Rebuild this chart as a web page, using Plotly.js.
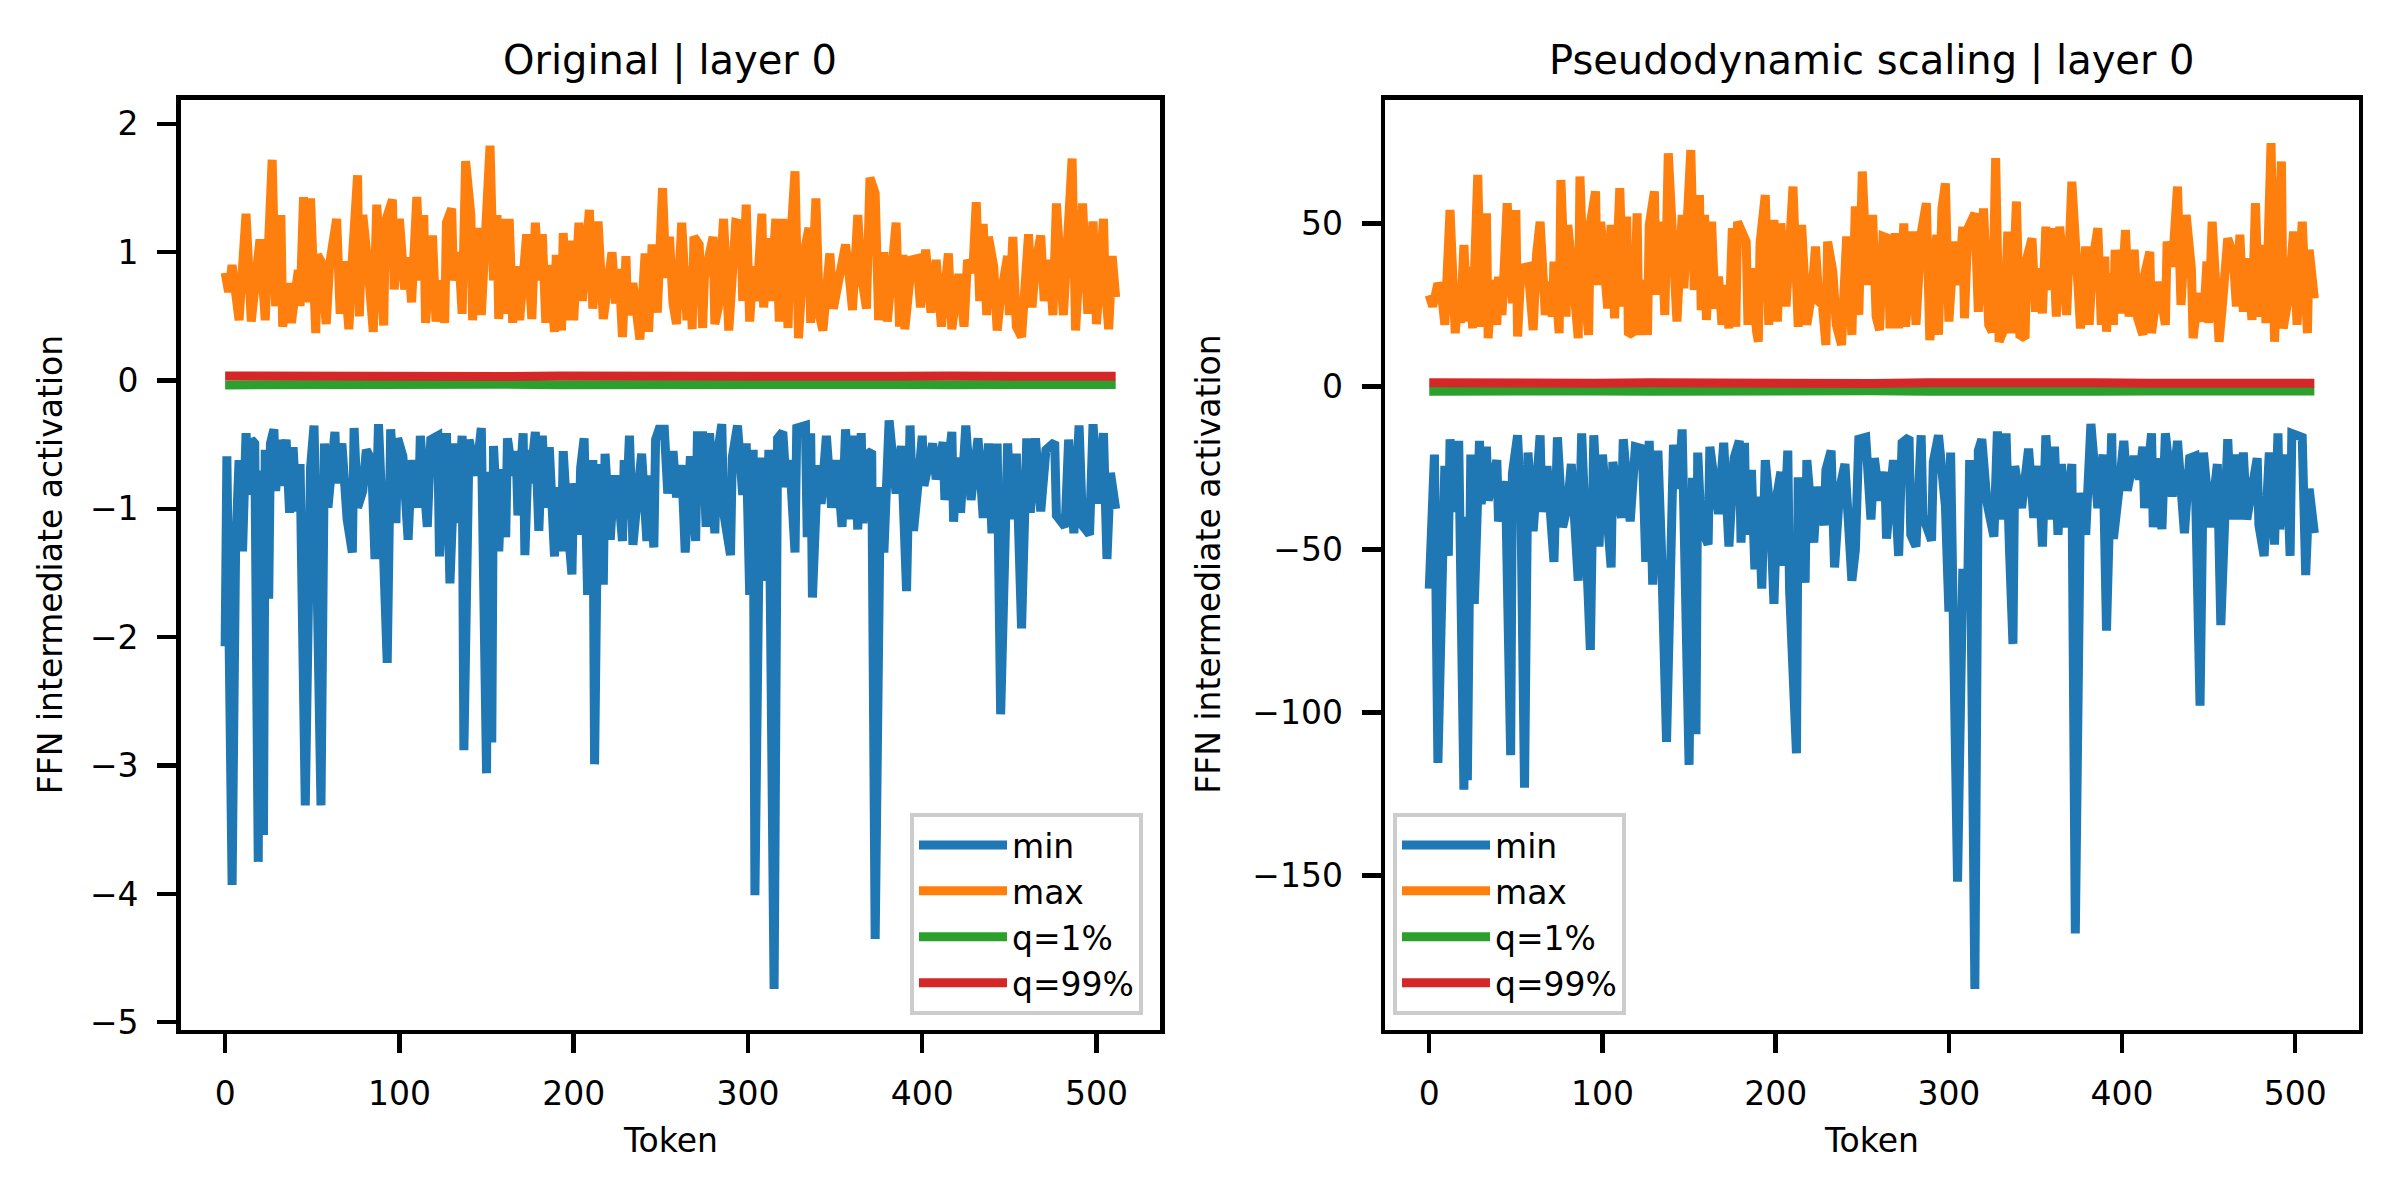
<!DOCTYPE html>
<html><head><meta charset="utf-8">
<script src="https://cdn.plot.ly/plotly-3.0.1.min.js"></script>
<style>html,body{margin:0;padding:0;background:#fff}#chart{width:2400px;height:1200px}</style>
</head><body><div id="chart"></div>
<script>
const panelTitles = ['Original | layer 0', 'Pseudodynamic scaling | layer 0'];
const xLabel = 'Token';
const yLabel = 'FFN intermediate activation';
const seriesNames = ['min', 'max', 'q=1%', 'q=99%'];
const seriesColors = ['#1f77b4', '#ff7f0e', '#2ca02c', '#d62728'];
const xTicks = [0, 100, 200, 300, 400, 500];
const leftYTicks = [-5, -4, -3, -2, -1, 0, 1, 2];
const rightYTicks = [-150, -100, -50, 0, 50];

// [token, value] (local extremes of the traces)
const leftMin = [[0,-2.07],[1,-0.59],[4,-3.93],[6,-1.33],[8,-0.62],[10,-1.33],[12,-0.41],[14,-0.89],[15,-0.46],[17,-0.49],[19,-3.75],[20,-0.70],[22,-3.54],[23,-0.54],[25,-1.70],[26,-0.49],[28,-0.38],[29,-0.86],[31,-0.46],[32,-0.82],[35,-0.46],[37,-1.03],[39,-0.52],[41,-1.02],[43,-0.65],[46,-3.31],[49,-0.68],[51,-0.35],[52,-0.96],[55,-3.31],[57,-0.49],[59,-0.99],[63,-0.40],[64,-0.80],[67,-0.49],[70,-1.08],[73,-1.34],[74,-0.37],[76,-0.99],[79,-0.86],[81,-0.54],[84,-0.62],[86,-1.39],[88,-0.34],[90,-0.99],[93,-2.20],[95,-0.38],[98,-1.11],[99,-0.45],[102,-0.59],[105,-1.24],[107,-0.62],[111,-0.99],[112,-0.43],[116,-1.14],[118,-0.46],[122,-0.43],[123,-1.37],[125,-0.77],[127,-0.41],[129,-1.58],[132,-0.49],[133,-1.11],[136,-0.43],[137,-2.88],[140,-0.46],[144,-0.74],[147,-0.37],[150,-3.06],[151,-0.71],[153,-2.82],[154,-0.51],[157,-1.33],[159,-0.69],[161,-1.22],[162,-0.45],[165,-0.74],[167,-0.55],[168,-1.05],[171,-0.41],[172,-1.36],[174,-0.54],[175,-0.80],[178,-0.40],[180,-1.17],[182,-0.43],[184,-0.99],[186,-0.52],[189,-1.37],[190,-0.83],[193,-1.33],[194,-0.55],[196,-1.02],[199,-1.51],[200,-0.80],[203,-1.20],[204,-0.68],[206,-0.45],[208,-1.67],[211,-0.62],[212,-2.99],[214,-0.65],[217,-1.59],[218,-0.57],[221,-1.24],[223,-0.77],[225,-0.77],[228,-1.25],[229,-0.62],[230,-1.08],[232,-0.43],[234,-1.28],[236,-0.99],[239,-0.57],[242,-1.25],[244,-0.74],[246,-1.30],[247,-0.46],[249,-0.38],[252,-0.38],[254,-0.88],[257,-0.55],[259,-0.91],[262,-0.66],[264,-1.34],[267,-0.59],[270,-1.25],[271,-0.43],[274,-0.43],[276,-1.14],[278,-0.41],[281,-1.19],[282,-0.62],[285,-0.34],[286,-1.02],[290,-1.36],[291,-0.60],[294,-0.35],[297,-0.89],[299,-0.49],[301,-1.67],[303,-0.54],[304,-4.01],[307,-0.60],[310,-1.56],[312,-0.54],[315,-4.74],[317,-0.45],[320,-0.40],[322,-0.83],[324,-0.62],[327,-1.34],[328,-0.37],[333,-0.35],[334,-1.22],[336,-0.41],[337,-1.69],[340,-0.66],[342,-0.96],[345,-0.43],[348,-0.99],[351,-0.62],[354,-1.14],[356,-0.38],[359,-1.08],[361,-0.43],[363,-1.16],[365,-0.41],[366,-1.11],[369,-0.57],[371,-0.55],[373,-4.35],[376,-0.83],[378,-1.34],[381,-0.31],[385,-0.88],[388,-0.51],[391,-1.64],[393,-0.35],[395,-1.17],[398,-0.75],[400,-0.43],[401,-0.82],[406,-0.49],[408,-0.77],[412,-0.48],[413,-0.93],[417,-0.40],[418,-1.10],[420,-0.60],[422,-1.03],[425,-0.35],[428,-0.93],[432,-0.45],[435,-1.07],[438,-0.49],[440,-1.19],[443,-0.49],[445,-2.60],[449,-0.49],[451,-1.08],[454,-0.57],[457,-1.93],[460,-0.45],[462,-1.03],[465,-0.45],[468,-1.02],[471,-0.54],[476,-0.48],[477,-1.05],[482,-1.14],[484,-0.46],[487,-1.19],[490,-0.35],[492,-1.13],[496,-1.20],[498,-0.34],[501,-0.96],[504,-0.41],[506,-1.39],[508,-0.72],[511,-1.00]];

const leftMax = [[0,0.84],[2,0.69],[4,0.90],[8,0.47],[12,1.30],[15,0.46],[20,1.10],[23,0.47],[27,1.72],[29,0.58],[32,1.29],[33,0.42],[36,0.76],[38,0.45],[42,0.86],[43,0.58],[45,1.43],[47,0.61],[49,1.42],[52,0.37],[53,0.98],[55,0.93],[58,0.44],[60,0.91],[64,1.26],[66,0.52],[68,0.93],[71,0.40],[73,0.95],[76,1.60],[77,0.50],[79,1.29],[82,0.89],[85,0.38],[87,1.37],[91,0.43],[92,1.24],[96,1.41],[97,0.71],[100,1.26],[103,0.71],[105,0.96],[107,0.61],[110,1.43],[112,0.78],[114,1.29],[115,0.45],[119,1.13],[121,0.46],[123,0.78],[126,0.45],[127,1.23],[130,1.34],[131,0.78],[134,1.00],[136,0.52],[138,1.71],[141,1.29],[142,0.47],[145,1.19],[147,0.51],[152,1.83],[154,0.78],[156,1.29],[157,0.48],[160,1.26],[161,0.52],[163,1.26],[165,0.45],[167,0.89],[169,0.47],[173,1.14],[176,0.48],[178,1.23],[180,0.78],[182,1.14],[184,0.45],[186,0.90],[189,0.38],[190,0.98],[193,0.39],[194,1.15],[196,0.47],[199,1.09],[200,0.47],[203,1.23],[205,0.62],[209,1.33],[211,0.56],[214,1.24],[217,0.48],[220,0.78],[222,1.00],[224,0.60],[226,0.87],[228,0.34],[230,0.97],[231,0.51],[234,0.76],[238,0.32],[241,0.99],[243,0.38],[245,1.06],[248,0.53],[251,1.50],[253,0.80],[255,1.12],[257,0.60],[259,0.44],[262,1.23],[265,0.47],[267,0.89],[268,0.40],[269,1.12],[272,1.06],[274,0.41],[275,0.80],[280,1.12],[281,0.44],[283,0.57],[286,1.26],[289,0.39],[291,0.83],[293,1.23],[296,1.22],[297,0.62],[299,1.37],[301,0.46],[303,0.89],[305,0.62],[308,1.30],[309,0.57],[312,1.11],[313,0.62],[316,1.26],[318,0.46],[320,1.26],[323,0.41],[324,0.98],[327,1.63],[329,0.33],[332,0.98],[335,1.19],[336,0.45],[339,1.42],[341,0.51],[343,0.39],[347,0.99],[349,0.56],[353,0.84],[356,1.06],[358,0.83],[360,0.55],[363,1.29],[365,0.83],[368,0.56],[370,1.58],[373,1.46],[375,0.47],[378,1.00],[380,0.46],[385,1.23],[387,0.42],[389,0.98],[390,0.40],[394,0.94],[397,0.95],[399,0.57],[402,1.02],[405,0.53],[408,0.94],[411,0.42],[415,0.99],[417,0.40],[421,0.83],[424,0.42],[426,0.94],[429,0.84],[431,1.39],[433,0.62],[435,1.22],[437,0.51],[438,1.12],[441,0.89],[443,0.39],[445,0.65],[449,0.97],[450,0.51],[452,1.12],[454,0.42],[457,0.34],[461,1.14],[463,0.57],[465,0.90],[468,1.13],[470,0.62],[473,0.94],[475,0.51],[477,1.38],[481,0.51],[483,0.94],[486,1.73],[488,0.39],[490,0.95],[492,1.38],[495,0.52],[498,1.24],[500,0.44],[504,1.26],[505,0.73],[507,0.40],[509,0.97],[511,0.65]];

const leftQ1 = [[0,-0.034],[32,-0.030],[64,-0.032],[96,-0.028],[128,-0.031],[160,-0.029],[192,-0.033],[224,-0.030],[256,-0.028],[288,-0.031],[320,-0.034],[352,-0.029],[384,-0.030],[416,-0.032],[448,-0.028],[480,-0.031],[511,-0.030]];
const leftQ99 = [[0,0.036],[32,0.033],[64,0.035],[96,0.031],[128,0.034],[160,0.032],[192,0.036],[224,0.033],[256,0.031],[288,0.034],[320,0.037],[352,0.032],[384,0.033],[416,0.035],[448,0.031],[480,0.034],[511,0.033]];

const rightMin = [[0,-62.0],[3,-20.9],[5,-115.5],[7,-56.1],[9,-24.4],[11,-52.0],[12,-16.2],[15,-38.5],[17,-16.7],[20,-123.7],[21,-40.0],[22,-120.8],[24,-20.9],[26,-66.7],[29,-16.7],[30,-36.1],[33,-18.5],[34,-35.0],[39,-22.6],[40,-41.4],[44,-29.1],[47,-113.1],[48,-26.7],[51,-15.0],[53,-39.7],[55,-123.1],[57,-20.3],[60,-44.4],[64,-15.0],[65,-38.5],[68,-24.4],[72,-53.8],[74,-15.6],[77,-43.2],[80,-36.1],[82,-23.8],[86,-59.6],[88,-14.4],[90,-42.0],[93,-80.8],[95,-15.0],[98,-49.1],[100,-20.9],[105,-55.5],[106,-23.2],[111,-40.3],[112,-16.2],[116,-41.4],[119,-18.5],[123,-19.1],[125,-53.8],[127,-16.7],[129,-60.8],[132,-19.7],[134,-49.1],[137,-109.0],[141,-17.9],[144,-31.4],[146,-13.2],[150,-116.1],[152,-28.0],[154,-106.7],[155,-20.3],[157,-43.2],[161,-48.5],[162,-18.5],[164,-26.7],[167,-39.1],[170,-17.3],[173,-49.1],[176,-22.0],[179,-16.7],[180,-47.9],[182,-17.3],[183,-45.5],[186,-25.6],[188,-56.1],[190,-33.8],[192,-62.0],[194,-22.6],[197,-39.7],[199,-66.7],[201,-32.6],[203,-26.2],[204,-55.0],[207,-19.7],[208,-62.0],[212,-112.5],[213,-27.9],[217,-60.2],[218,-22.6],[222,-47.9],[224,-30.8],[228,-42.6],[229,-25.6],[232,-19.7],[234,-55.5],[237,-31.4],[240,-23.8],[244,-59.6],[246,-50.2],[248,-16.2],[252,-15.6],[255,-40.8],[257,-22.0],[260,-35.0],[263,-26.2],[264,-46.7],[268,-22.6],[271,-52.0],[273,-17.3],[277,-15.6],[278,-45.5],[281,-49.1],[284,-15.0],[285,-39.7],[290,-47.3],[291,-23.2],[294,-15.0],[298,-36.7],[300,-69.1],[301,-20.3],[305,-151.9],[308,-57.3],[311,-57.3],[312,-22.6],[315,-184.8],[317,-19.7],[319,-16.2],[322,-35.6],[326,-46.1],[328,-13.8],[331,-40.8],[333,-14.4],[335,-50.2],[337,-79.0],[338,-24.4],[342,-37.3],[346,-19.1],[349,-40.3],[352,-24.4],[354,-49.1],[356,-15.0],[359,-40.8],[361,-18.5],[363,-45.5],[365,-23.8],[367,-43.2],[371,-23.8],[373,-167.8],[376,-32.6],[379,-45.5],[382,-11.5],[386,-37.3],[389,-20.9],[391,-74.9],[394,-14.4],[395,-46.7],[398,-32.6],[401,-16.7],[403,-32.0],[407,-21.4],[410,-28.5],[412,-18.5],[413,-37.3],[417,-14.4],[418,-43.2],[421,-22.0],[423,-43.8],[425,-14.4],[429,-33.8],[432,-16.7],[436,-45.0],[439,-22.0],[442,-21.4],[445,-97.9],[447,-20.3],[451,-43.2],[455,-23.8],[457,-73.2],[461,-16.2],[463,-40.8],[466,-20.9],[468,-40.8],[470,-20.3],[472,-40.8],[478,-22.0],[479,-42.6],[482,-52.0],[485,-20.3],[488,-48.5],[490,-14.4],[491,-43.8],[495,-20.9],[497,-52.0],[498,-14.4],[504,-15.6],[506,-57.9],[508,-31.4],[511,-45.0]];

const rightMax = [[0,28.0],[2,24.5],[5,31.6],[7,29.1],[9,18.9],[12,54.1],[15,16.3],[17,31.1],[18,19.4],[20,43.4],[22,19.9],[24,36.7],[25,17.8],[28,64.9],[30,18.3],[33,53.1],[34,14.8],[36,32.6],[39,18.9],[40,33.7],[42,21.9],[43,38.3],[45,56.2],[48,25.5],[50,54.1],[51,15.3],[53,36.2],[57,36.7],[60,17.3],[62,40.8],[64,50.5],[67,21.9],[69,32.1],[71,21.4],[72,38.3],[75,16.3],[76,63.3],[79,21.4],[80,49.5],[83,33.2],[85,20.9],[86,14.8],[87,64.4],[89,33.7],[92,15.8],[93,50.0],[96,59.8],[97,31.1],[99,50.5],[103,23.9],[105,49.5],[107,20.9],[110,60.8],[112,24.5],[114,52.1],[115,15.8],[118,16.8],[120,53.1],[121,15.8],[124,32.6],[126,15.8],[127,49.5],[130,59.8],[131,28.1],[134,50.5],[136,21.9],[138,71.5],[141,30.1],[143,19.9],[146,52.6],[147,30.1],[151,72.5],[153,29.6],[156,58.7],[157,23.4],[159,52.6],[160,20.4],[163,50.5],[165,23.9],[167,33.7],[169,18.9],[171,31.1],[173,17.8],[175,48.5],[177,18.3],[178,50.5],[181,46.5],[183,44.4],[184,18.9],[186,36.2],[189,16.8],[190,13.7],[191,43.9],[194,58.7],[196,18.9],[199,51.1],[201,19.9],[203,50.0],[206,24.5],[210,61.3],[213,18.3],[215,49.5],[218,18.9],[221,29.1],[223,42.9],[225,26.0],[227,25.0],[229,12.7],[230,44.4],[233,35.2],[235,18.9],[238,12.7],[241,46.0],[244,15.8],[246,55.2],[248,21.9],[250,65.9],[253,31.1],[256,52.6],[258,21.4],[260,17.3],[262,46.0],[265,45.4],[266,17.8],[269,47.0],[271,17.8],[274,50.0],[275,18.3],[279,47.5],[281,18.9],[284,47.0],[287,56.2],[289,14.2],[293,46.5],[294,15.8],[296,54.6],[298,62.3],[300,19.9],[303,44.4],[306,31.1],[308,49.0],[309,20.9],[311,48.5],[315,53.1],[317,22.9],[320,54.6],[323,18.9],[325,16.8],[327,70.0],[329,13.7],[332,17.8],[334,47.5],[336,16.3],[339,56.7],[341,15.8],[344,14.8],[345,39.3],[348,45.4],[350,22.9],[352,36.2],[354,22.4],[356,49.0],[358,29.6],[360,48.5],[362,21.4],[364,49.0],[366,35.2],[368,21.9],[371,62.8],[374,35.2],[376,17.8],[379,42.9],[381,18.9],[383,38.3],[386,48.5],[388,18.9],[390,39.8],[391,16.8],[393,34.7],[395,18.9],[396,41.9],[399,22.4],[402,48.0],[404,21.4],[407,41.9],[409,20.9],[412,15.8],[413,34.2],[416,41.3],[417,16.3],[421,32.1],[425,18.9],[426,44.4],[429,36.7],[432,61.3],[434,25.0],[437,52.6],[440,36.2],[441,14.8],[444,28.6],[447,19.9],[449,38.3],[450,19.4],[452,50.5],[456,13.7],[458,25.5],[461,45.4],[464,40.8],[466,24.5],[468,46.5],[470,22.9],[472,39.3],[475,20.4],[477,56.2],[479,21.4],[482,43.4],[483,19.4],[486,74.6],[488,13.7],[492,69.0],[493,17.8],[496,27.0],[499,47.5],[501,18.9],[504,50.5],[507,16.3],[508,41.9],[511,27.0]];

const rightQ1 = [[0,-1.5],[32,-1.3],[64,-1.6],[96,-1.4],[128,-1.5],[160,-1.3],[192,-1.6],[224,-1.4],[256,-1.3],[288,-1.5],[320,-1.7],[352,-1.4],[384,-1.5],[416,-1.4],[448,-1.3],[480,-1.5],[511,-1.4]];
const rightQ99 = [[0,1.1],[32,0.9],[64,1.2],[96,1.0],[128,1.1],[160,0.9],[192,1.2],[224,1.0],[256,0.9],[288,1.1],[320,1.3],[352,1.0],[384,1.1],[416,1.0],[448,0.9],[480,1.1],[511,1.0]];

const FONT = 'DejaVu Sans, Liberation Sans, sans-serif';
const LW = 9;

function mk(pairs, i, xa, ya, lg) {
  return {
    type: 'scatter', mode: 'lines',
    x: pairs.map(p => p[0]), y: pairs.map(p => p[1]),
    name: seriesNames[i], xaxis: xa, yaxis: ya, legend: lg,
    line: {color: seriesColors[i], width: LW},
    hoverinfo: 'skip'
  };
}

const traces = [
  mk(leftMin, 0, 'x', 'y', 'legend'),
  mk(leftMax, 1, 'x', 'y', 'legend'),
  mk(leftQ1, 2, 'x', 'y', 'legend'),
  mk(leftQ99, 3, 'x', 'y', 'legend'),
  mk(rightMin, 0, 'x2', 'y2', 'legend2'),
  mk(rightMax, 1, 'x2', 'y2', 'legend2'),
  mk(rightQ1, 2, 'x2', 'y2', 'legend2'),
  mk(rightQ99, 3, 'x2', 'y2', 'legend2')
];

const W = 2400, H = 1200;
const PL = {l: 180.6, r: 1160.2}, PR = {l: 1385, r: 2358.6};
const topPx = 99.5, botPx = 1030;
const yDom = [(H - botPx) / H, (H - topPx) / H];

function axisBase() {
  return {
    showgrid: false, zeroline: false, showline: true, mirror: true,
    linecolor: '#000', linewidth: 4.4,
    ticks: 'outside', ticklen: 19, tickwidth: 4.4, tickcolor: '#000',
    tickfont: {family: FONT, size: 33, color: '#000'},
    automargin: false, ticklabelstandoff: 12, fixedrange: true
  };
}

function legendBox(x, xanchor) {
  return {
    x: x, xanchor: xanchor, y: (H - 1015) / H, yanchor: 'bottom',
    bgcolor: 'rgba(255,255,255,0.8)', bordercolor: '#cccccc', borderwidth: 4,
    font: {family: FONT, size: 33, color: '#000'}, itemwidth: 88, tracegroupgap: 0
  };
}

const layout = {
  width: W, height: H,
  margin: {l: 0, r: 0, t: 0, b: 0},
  paper_bgcolor: '#fff', plot_bgcolor: '#fff',
  showlegend: true,
  font: {family: FONT, color: '#000'},
  xaxis: Object.assign(axisBase(), {domain: [PL.l / W, PL.r / W], range: [-25.55, 536.55], tickvals: xTicks, anchor: 'y'}),
  yaxis: Object.assign(axisBase(), {domain: yDom, range: [-5.06, 2.19], tickvals: leftYTicks, anchor: 'x'}),
  xaxis2: Object.assign(axisBase(), {domain: [PR.l / W, PR.r / W], range: [-25.55, 536.55], tickvals: xTicks, anchor: 'y2'}),
  yaxis2: Object.assign(axisBase(), {domain: yDom, range: [-197.4, 88.0], tickvals: rightYTicks, anchor: 'x2'}),
  legend: legendBox(1143 / W, 'right'),
  legend2: legendBox(1393 / W, 'left'),
  annotations: [
    {text: panelTitles[0], x: (PL.l + PL.r) / 2 / W, y: (H - 61) / H, xref: 'paper', yref: 'paper', showarrow: false, xanchor: 'center', yanchor: 'middle', font: {family: FONT, size: 40, color: '#000'}},
    {text: panelTitles[1], x: (PR.l + PR.r) / 2 / W, y: (H - 61) / H, xref: 'paper', yref: 'paper', showarrow: false, xanchor: 'center', yanchor: 'middle', font: {family: FONT, size: 40, color: '#000'}},
    {text: xLabel, x: (PL.l + PL.r) / 2 / W, y: (H - 1140) / H, xref: 'paper', yref: 'paper', showarrow: false, xanchor: 'center', yanchor: 'middle', font: {family: FONT, size: 33, color: '#000'}},
    {text: xLabel, x: (PR.l + PR.r) / 2 / W, y: (H - 1140) / H, xref: 'paper', yref: 'paper', showarrow: false, xanchor: 'center', yanchor: 'middle', font: {family: FONT, size: 33, color: '#000'}},
    {text: yLabel, x: 50.5 / W, y: (H - (topPx + botPx) / 2) / H, xref: 'paper', yref: 'paper', showarrow: false, xanchor: 'center', yanchor: 'middle', textangle: -90, font: {family: FONT, size: 33, color: '#000'}},
    {text: yLabel, x: 1209 / W, y: (H - (topPx + botPx) / 2) / H, xref: 'paper', yref: 'paper', showarrow: false, xanchor: 'center', yanchor: 'middle', textangle: -90, font: {family: FONT, size: 33, color: '#000'}}
  ]
};

Plotly.newPlot('chart', traces, layout, {staticPlot: true, displayModeBar: false});
</script>
</body></html>
